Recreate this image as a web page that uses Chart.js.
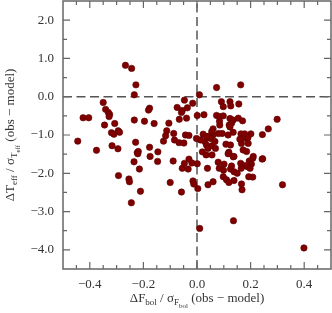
<!DOCTYPE html>
<html><head><meta charset="utf-8">
<script src="https://cdn.jsdelivr.net/npm/chart.js@4/dist/chart.umd.min.js"></script>
<style>html,body{margin:0;padding:0;background:#fff;}#wrap{width:332px;height:313px;}</style>
</head><body><div id="wrap"><canvas id="c" width="332" height="313"></canvas></div>
<script>
// ΔF_bol / σ (x) and ΔT_eff / σ (y), obs − model
const dFbol = [
 -0.267,-0.244,-0.228,-0.234,-0.35,-0.341,-0.331,-0.326,-0.328,-0.425,-0.404,-0.234,-0.345,-0.307,
 -0.319,-0.310,-0.294,-0.289,-0.445,-0.229,-0.317,-0.295,-0.375,-0.223,-0.235,-0.215,-0.293,-0.254,
 -0.252,-0.245,-0.047,-0.016,-0.074,-0.036,-0.055,-0.058,-0.177,-0.181,0.001,-0.066,-0.039,-0.196,
 -0.160,-0.105,-0.113,-0.117,-0.087,-0.043,-0.030,-0.002,-0.084,-0.067,-0.049,-0.125,-0.177,-0.219,
 -0.221,-0.146,-0.175,-0.147,-0.089,-0.047,-0.030,-0.019,0.001,-0.055,-0.033,-0.015,-0.012,0.003,
 -0.100,-0.058,-0.211,0.010,
 0.073,0.163,0.009,0.091,0.123,0.098,0.126,0.156,0.026,0.073,0.085,0.098,0.123,0.135,0.154,0.170,
 0.085,0.120,0.129,0.299,0.266,0.244,0.201,0.164,0.135,0.116,0.094,0.080,0.060,0.045,0.023,
 0.013,0.029,0.035,0.041,0.051,0.060,0.055,0.163,0.185,0.191,0.166,0.172,0.185,
 0.108,0.125,0.119,0.135,0.056,0.069,0.056,0.039,0.079,0.101,0.125,0.138,0.150,
 0.098,0.110,0.119,0.138,0.166,0.168,0.060,0.041,0.195,0.208,0.203,0.189,0.198,0.193,0.208,0.163,0.179,0.245,
 0.319,0.136,0.399,
 0.020,0.034,0.116,0.083,0.099,0.129,0.037,0.067,0.084,0.123,0.210,0.178,0.165,0.243,0.138,0.160,0.190
];
const dTeff = [
 0.82,0.74,0.31,0.05,-0.15,-0.33,-0.41,-0.46,-0.52,-0.55,-0.55,-0.61,-0.74,-0.70,
 -0.94,-0.98,-0.89,-0.93,-1.16,-1.19,-1.28,-1.36,-1.40,-1.46,-1.70,-1.89,-2.06,-2.15,
 -2.22,-2.77,-0.09,-0.17,-0.28,-0.29,-0.36,-0.41,-0.30,-0.35,-0.49,-0.59,-0.56,-0.64,
 -0.70,-0.69,-0.89,-1.02,-0.96,-1.00,-1.01,-1.09,-1.13,-1.20,-1.21,-1.16,-1.32,-1.43,
 -1.49,-1.44,-1.56,-1.69,-1.68,-1.74,-1.63,-1.73,-1.75,-1.87,-1.89,-2.20,-2.28,-2.40,
 -2.24,-2.49,-2.47,-3.44,
 0.24,0.31,0.05,-0.13,-0.13,-0.26,-0.24,-0.19,-0.47,-0.49,-0.52,-0.50,-0.57,-0.61,-0.56,-0.63,
 -0.74,-0.74,-0.69,-0.59,-0.84,-0.99,-0.97,-0.97,-0.93,-1.00,-0.96,-0.96,-1.00,-1.03,-0.98,
 -1.13,-1.17,-1.26,-1.35,-1.09,-0.84,-0.91,-1.11,-1.09,-1.22,-1.22,-1.39,-1.43,
 -1.24,-1.26,-1.45,-1.57,-1.28,-1.35,-1.52,-1.87,-1.71,-1.76,-1.89,-1.96,-2.00,
 -2.09,-2.17,-2.24,-2.19,-2.28,-2.43,-2.22,-2.30,-1.68,-1.61,-1.76,-1.83,-1.87,-2.09,-2.10,-1.74,-1.80,-1.62,
 -2.30,-3.24,-3.95,
 -1.44,-1.52,-1.49,-1.87,-1.92,-1.81,-1.04,-1.17,-0.64,-0.79,-1.56,-0.97,-1.87,-1.63,-1.56,-1.11,-1.07
];
const xTicks = [-0.4, -0.2, 0.0, 0.2, 0.4];
const yTicks = [2, 1, 0, -1, -2, -3, -4];
const xRange = [-0.5, 0.5];
const yRange = [-4.5, 2.5];

const points = dFbol.map((x, i) => ({x: x, y: dTeff[i]}));
const fmt = v => { const s = Math.abs(v).toFixed(1); return (v < -1e-9 ? '\u2212' : '') + s; };
const SERIF = '"Liberation Serif", "Times New Roman", serif';
const TXT = '#333';

function drawRich(ctx, parts, cx, cy) {
  let w = 0;
  parts.forEach(p => { ctx.font = p[1] + 'px ' + SERIF; w += ctx.measureText(p[0]).width; });
  let x = cx - w / 2;
  ctx.textBaseline = 'alphabetic';
  ctx.textAlign = 'left';
  parts.forEach(p => { ctx.font = p[1] + 'px ' + SERIF; ctx.fillText(p[0], x, cy + p[2]); x += ctx.measureText(p[0]).width; });
}

const framePlugin = {
  id: 'frame',
  afterDraw(chart) {
    const ctx = chart.ctx, a = chart.chartArea;
    const xs = chart.scales.x, ys = chart.scales.y;
    ctx.save();
    ctx.strokeStyle = '#666';
    ctx.lineWidth = 1.5;
    ctx.strokeRect(a.left, a.top, a.right - a.left, a.bottom - a.top);
    ctx.lineWidth = 1.2;
    ctx.beginPath();
    for (let k = -10; k <= 10; k++) {
      const v = k * 0.05; const px = xs.getPixelForValue(v);
      if (px <= a.left + 1 || px >= a.right - 1) continue;
      const L = (k % 4 === 0) ? 7 : 4;
      ctx.moveTo(px, a.bottom); ctx.lineTo(px, a.bottom - L);
      ctx.moveTo(px, a.top); ctx.lineTo(px, a.top + L);
    }
    for (let k = -9; k <= 5; k++) {
      const v = k * 0.5; const py = ys.getPixelForValue(v);
      if (py <= a.top + 1 || py >= a.bottom - 1) continue;
      const L = (k % 2 === 0) ? 7 : 4;
      ctx.moveTo(a.left, py); ctx.lineTo(a.left + L, py);
      ctx.moveTo(a.right, py); ctx.lineTo(a.right - L, py);
    }
    ctx.stroke();
    ctx.fillStyle = TXT;
    const cx = (a.left + a.right) / 2;
    drawRich(ctx, [['\u0394F', 13, 0], ['bol', 9, 3], [' / \u03c3', 13, 0], ['F', 9, 3], ['bol', 7, 6], [' (obs \u2212 model)', 13, 0]], cx, 302);
    ctx.translate(14, (a.top + a.bottom) / 2);
    ctx.rotate(-Math.PI / 2);
    drawRich(ctx, [['\u0394T', 13, 0], ['eff', 9, 3], [' / \u03c3', 13, 0], ['T', 9, 3], ['eff', 7, 6], [' (obs \u2212 model)', 13, 0]], 0, 0);
    ctx.restore();
  }
};

new Chart(document.getElementById('c'), {
  type: 'scatter',
  data: {
    datasets: [
      { data: points, backgroundColor: '#800000', borderColor: '#5c0000', borderWidth: 0.6, pointRadius: 3.2, order: 0 },
      { data: [{x: xRange[0], y: 0}, {x: xRange[1], y: 0}], showLine: true, borderColor: '#555', borderWidth: 1.5, borderDash: [9, 4.5], pointRadius: 0, pointHoverRadius: 0, order: 1 },
      { data: [{x: 0, y: yRange[0]}, {x: 0, y: yRange[1]}], showLine: true, borderColor: '#555', borderWidth: 1.5, borderDash: [9, 4.5], pointRadius: 0, pointHoverRadius: 0, order: 1 }
    ]
  },
  options: {
    responsive: false, animation: false, devicePixelRatio: 1,
    layout: { autoPadding: false, padding: { top: 1, right: 1, left: 0, bottom: 0 } },
    plugins: { legend: { display: false }, tooltip: { enabled: false } },
    scales: {
      x: {
        type: 'linear', min: xRange[0], max: xRange[1],
        grid: { display: false, drawTicks: false }, border: { display: false },
        afterBuildTicks: s => { s.ticks = xTicks.map(v => ({ value: v })); },
        afterFit: s => { s.height = 44; s.paddingLeft = 0; s.paddingRight = 0; },
        ticks: { color: TXT, padding: 8, font: { family: SERIF, size: 13 }, callback: v => fmt(v), maxRotation: 0 }
      },
      y: {
        type: 'linear', min: yRange[0], max: yRange[1],
        grid: { display: false, drawTicks: false }, border: { display: false },
        afterBuildTicks: s => { s.ticks = yTicks.map(v => ({ value: v })); },
        afterFit: s => { s.width = 63; s.paddingTop = 0; s.paddingBottom = 0; },
        ticks: { color: TXT, padding: 9, font: { family: SERIF, size: 13 }, callback: v => fmt(v) }
      }
    }
  },
  plugins: [framePlugin]
});
</script></body></html>
